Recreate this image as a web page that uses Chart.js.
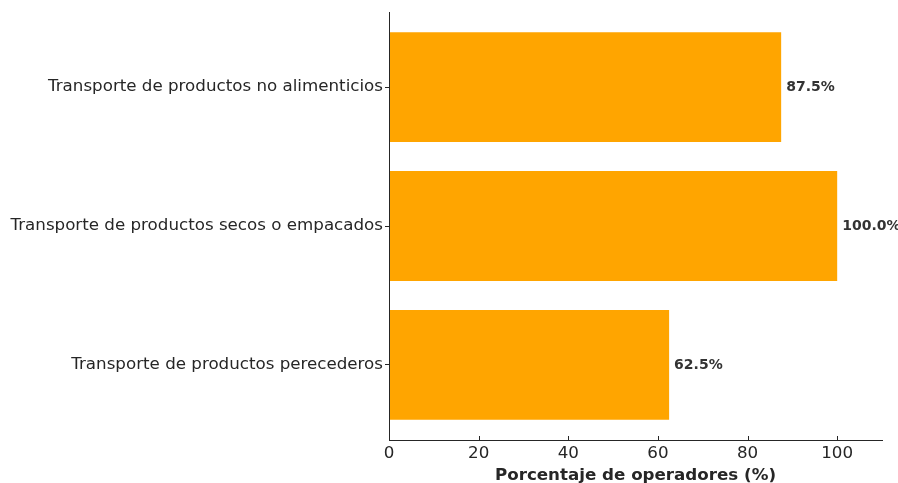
<!DOCTYPE html>
<html>
<head>
<meta charset="utf-8">
<script src="https://cdn.jsdelivr.net/npm/chart.js@4/dist/chart.umd.min.js"></script>
<style>
  html, body { margin: 0; padding: 0; background: #fff; }
</style>
</head>
<body>
<canvas id="myChart" width="898" height="483"></canvas>
<script>
// categorias de abajo hacia arriba (como en el grafico original)
var categorias = ['Transporte de productos perecederos', 'Transporte de productos secos o empacados', 'Transporte de productos no alimenticios'];
var porcentajes = [62.5, 100, 87.5];
var ticksX = [0, 20, 40, 60, 80, 100];

var fuente = 'DejaVu Sans';
var colorTexto = '#262626';

// etiquetas con el valor al final de cada barra, ejes por encima de las barras y ticks hacia adentro en x
var extras = {
  id: 'extras',
  afterDatasetsDraw: function(chart) {
    var ctx = chart.ctx;
    var meta = chart.getDatasetMeta(0);
    var area = chart.chartArea;
    ctx.save();
    ctx.font = 'bold 14px "' + fuente + '"';
    ctx.fillStyle = '#333333';
    ctx.textAlign = 'left';
    ctx.textBaseline = 'middle';
    meta.data.forEach(function(bar, i) {
      ctx.fillText(porcentajes[i].toFixed(1) + '%', bar.x + 5, bar.y);
    });
    ctx.strokeStyle = colorTexto;
    ctx.lineWidth = 1;
    // eje y
    var x0 = Math.round(area.left) + 0.5;
    ctx.beginPath();
    ctx.moveTo(x0, area.top);
    ctx.lineTo(x0, area.bottom);
    ctx.stroke();
    // ticks x hacia adentro
    var xs = chart.scales.x;
    ticksX.forEach(function(v) {
      var px = Math.round(xs.getPixelForValue(v)) + 0.5;
      ctx.beginPath();
      ctx.moveTo(px, area.bottom);
      ctx.lineTo(px, area.bottom - 4);
      ctx.stroke();
    });
    ctx.restore();
  }
};

graficoBarras();

function graficoBarras() {
  var ctx = document.getElementById('myChart').getContext('2d');
  new Chart(ctx, {
    type: 'bar',
    data: {
      datasets: [{
        data: categorias.map(function(c, i) { return { x: porcentajes[i], y: i }; }),
        backgroundColor: '#FFA500',
        borderWidth: 0,
        barPercentage: 1,
        categoryPercentage: 0.79
      }]
    },
    options: {
      indexAxis: 'y',
      responsive: false,
      animation: false,
      layout: { padding: { top: 12, right: 16, left: 0, bottom: 0 } },
      plugins: {
        legend: { display: false },
        tooltip: { enabled: false }
      },
      scales: {
        x: {
          type: 'linear',
          min: 0,
          max: 110,
          afterBuildTicks: function(scale) {
            scale.ticks = ticksX.map(function(v) { return { value: v }; });
          },
          afterFit: function(scale) { scale.height = 43; },
          grid: { display: false },
          border: { display: true, color: colorTexto, width: 1 },
          ticks: { color: colorTexto, font: { family: fuente, size: 16.7 }, padding: -4, maxRotation: 0 },
          title: {
            display: true,
            text: 'Porcentaje de operadores (%)',
            color: colorTexto,
            font: { family: fuente, size: 16.7, weight: 'bold' },
            padding: { top: 0, bottom: -3 }
          }
        },
        y: {
          type: 'linear',
          offset: false,
          min: -0.54,
          max: 2.54,
          afterBuildTicks: function(scale) {
            scale.ticks = [0, 1, 2].map(function(v) { return { value: v }; });
          },
          afterFit: function(scale) { scale.width = 389; },
          grid: { display: true, offset: false, drawOnChartArea: false, tickLength: 4, color: colorTexto },
          border: { display: true, color: colorTexto, width: 1 },
          ticks: {
            color: colorTexto,
            font: { family: fuente, size: 16.7 },
            padding: 2,
            callback: function(v) { return categorias[v]; }
          }
        }
      }
    },
    plugins: [extras]
  });
}
</script>
</body>
</html>
